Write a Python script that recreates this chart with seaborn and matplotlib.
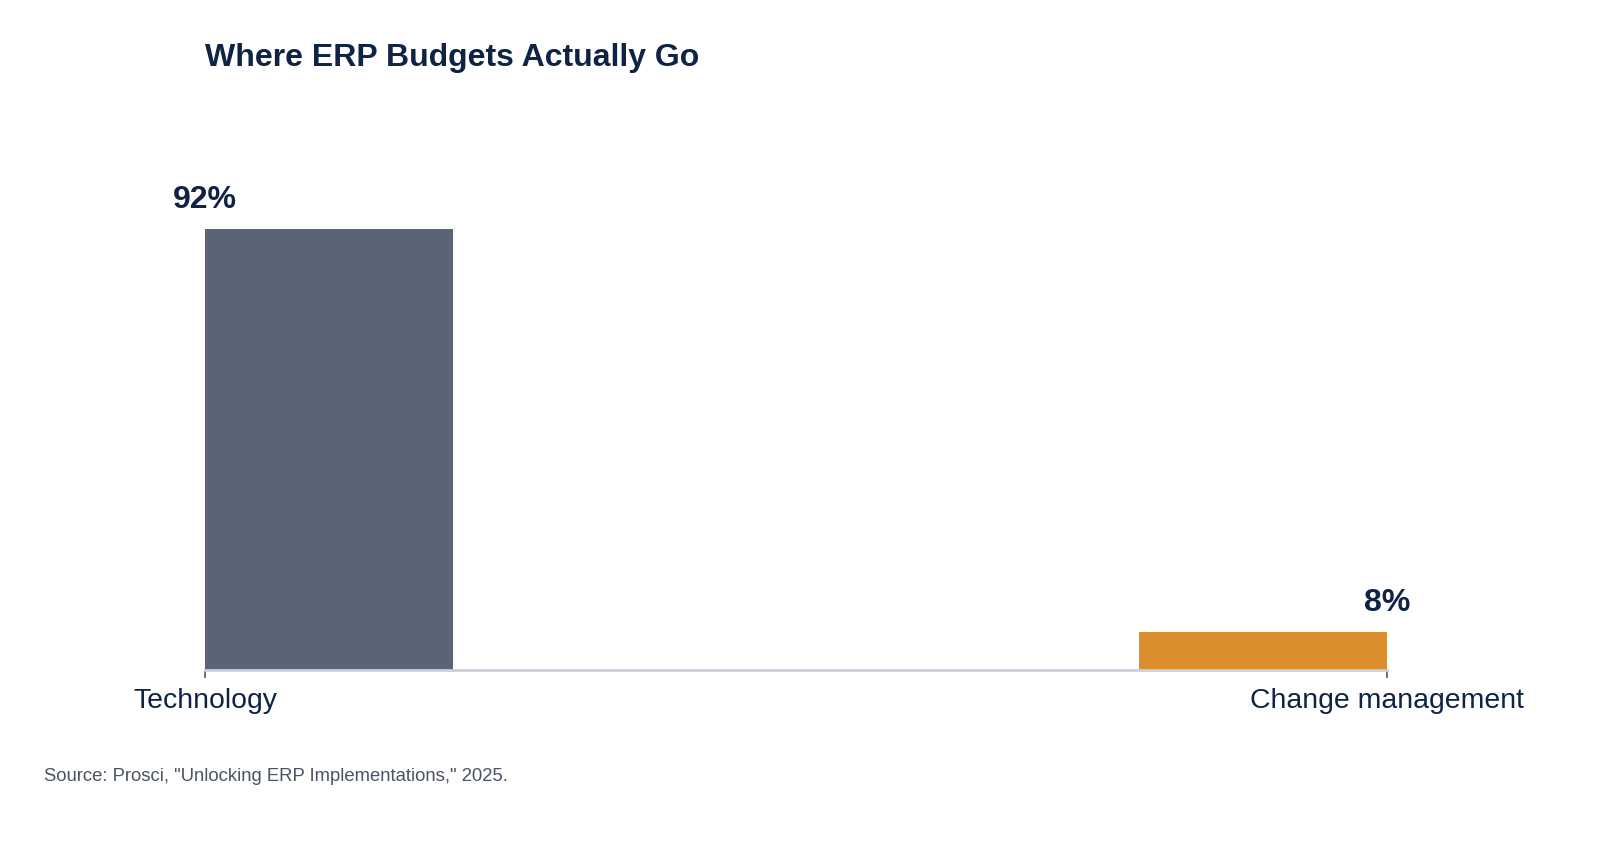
import matplotlib
matplotlib.use("Agg")
import matplotlib.pyplot as plt
import seaborn as sns
import pandas as pd

# Data
categories = ["Technology", "Change management"]
shares = [92, 8]
value_labels = ["92%", "8%"]
bar_colors = ["#5A6474", "#DA8E2E"]

sns.set_theme(style="white")
plt.rcParams["font.family"] = ["Liberation Sans", "DejaVu Sans"]

navy = "#0F2344"

df = pd.DataFrame({"pos": [0, 1], "share": shares, "category": categories})

fig = plt.figure(figsize=(16, 8.47), dpi=100)
ax = fig.add_axes([205 / 1600, 1 - 670 / 847, (1387 - 205) / 1600, 479 / 847])

sns.barplot(data=df, x="pos", y="share", hue="category", palette=bar_colors,
            native_scale=True, width=0.2625, legend=False, saturation=1,
            ax=ax)

# bars hang off the tick: first starts at it, last ends at it
bw = 0.21
for i, p in enumerate(ax.patches):
    p.set_width(bw)
    p.set_x(0 if i == 0 else 1 - bw)
    p.set_linewidth(0)

ax.set_xlim(0, 1)
ax.set_ylim(0, 100)
ax.set_xticks([0, 1])
ax.set_xticklabels(categories, fontsize=20.4, color=navy)
ax.set_yticks([])
ax.set_xlabel("")
ax.set_ylabel("")
ax.tick_params(axis="x", bottom=True, length=6, width=1.2, color="#555B66", pad=7)

for s in ["top", "right", "left"]:
    ax.spines[s].set_visible(False)
ax.spines["bottom"].set_color("#C9D1DD")
ax.spines["bottom"].set_linewidth(2)

for x, v, lab in zip([0, 1], shares, value_labels):
    ax.annotate(lab, (x, v), xytext=(0, 10), textcoords="offset points",
                ha="center", va="bottom", fontsize=23, fontweight="bold",
                color=navy, annotation_clip=False)

fig.text(205 / 1600, 1 - 58 / 847, "Where ERP Budgets Actually Go",
         fontsize=23, fontweight="bold", color=navy, ha="left", va="center")
fig.text(44 / 1600, 1 - 776 / 847,
         'Source: Prosci, "Unlocking ERP Implementations," 2025.',
         fontsize=13.3, color="#4A5263", ha="left", va="center")

fig.savefig("out.png", dpi=100, facecolor="white")
